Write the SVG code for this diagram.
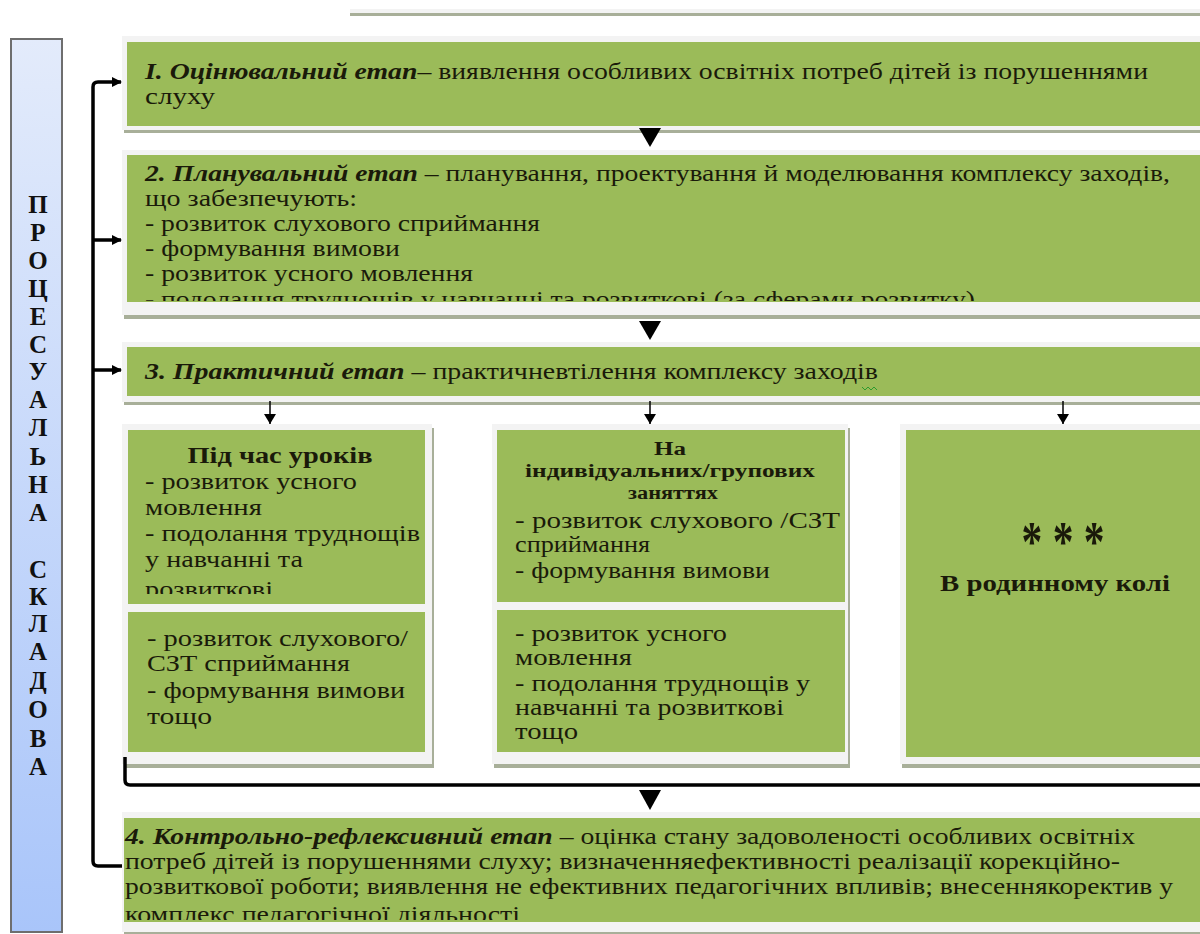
<svg xmlns="http://www.w3.org/2000/svg" width="1200" height="934" viewBox="0 0 1200 934">
<defs>
<linearGradient id="blueGrad" x1="0" y1="0" x2="0" y2="1">
<stop offset="0" stop-color="#e3ebfb"/>
<stop offset="1" stop-color="#a9c5fa"/>
</linearGradient>
<marker id="arrR" markerWidth="10" markerHeight="10" refX="9" refY="5" orient="auto" markerUnits="userSpaceOnUse" viewBox="0 0 10 10">
<path d="M0,0 L10,5 L0,10 z" fill="#000"/>
</marker>
<marker id="arrS" markerWidth="10" markerHeight="12" refX="10" refY="6" orient="auto" markerUnits="userSpaceOnUse" viewBox="0 0 10 12">
<path d="M0,0 L10,6 L0,12 z" fill="#000"/>
</marker>
<clipPath id="c2"><rect x="127" y="155" width="1075" height="146"/></clipPath>
<clipPath id="cL"><rect x="128" y="430" width="297" height="164"/></clipPath>
<clipPath id="c4"><rect x="122" y="818" width="1080" height="102"/></clipPath>
</defs>
<style>
.shadow{fill:#a8af99}
.frame{fill:#f3f3f3}
.green{fill:#9bbb59}
.t{font-family:"Liberation Serif","Times New Roman",serif;font-size:24px;fill:#1a1a0a}
.bi{font-weight:bold;font-style:italic}
.b{font-weight:bold}
.hd{font-weight:bold;font-size:18px;text-anchor:middle}
.stars{font-weight:bold;font-size:58px;text-anchor:middle}
.vl{font-family:"Liberation Serif","Times New Roman",serif;font-size:25px;font-weight:bold;fill:#111;text-anchor:middle}
.conn{fill:none;stroke:#000;stroke-width:3.5}
.thin{fill:none;stroke:#000;stroke-width:1.5}
.tri{fill:#000}
</style>

<!-- top cut-off box edge -->
<g id="topEdge">
<rect x="350" y="12" width="852" height="4" fill="#a8af99"/>
<rect x="350" y="9" width="852" height="4" fill="#f3f3f3"/>
</g>

<!-- vertical label -->
<g id="verticalLabel">
<rect x="11" y="39" width="51" height="893" fill="url(#blueGrad)" stroke="#6e6e6e" stroke-width="2"/>
<text class="vl" x="38" y="213">П</text>
<text class="vl" x="38" y="241">Р</text>
<text class="vl" x="38" y="269">О</text>
<text class="vl" x="38" y="297">Ц</text>
<text class="vl" x="38" y="325">Е</text>
<text class="vl" x="38" y="353">С</text>
<text class="vl" x="38" y="380">У</text>
<text class="vl" x="38" y="408">А</text>
<text class="vl" x="38" y="436">Л</text>
<text class="vl" x="38" y="465">Ь</text>
<text class="vl" x="38" y="493">Н</text>
<text class="vl" x="38" y="521">А</text>
<text class="vl" x="38" y="578">С</text>
<text class="vl" x="38" y="605">К</text>
<text class="vl" x="38" y="632">Л</text>
<text class="vl" x="38" y="660">А</text>
<text class="vl" x="38" y="689">Д</text>
<text class="vl" x="38" y="718">О</text>
<text class="vl" x="38" y="747">В</text>
<text class="vl" x="38" y="775">А</text>
</g>

<!-- Stage 1 -->
<g id="stage1">
<rect class="shadow" x="124" y="40" width="1080" height="93"/>
<rect class="frame" x="122" y="36" width="1080" height="94"/>
<rect class="green" x="127" y="42" width="1075" height="84"/>
<text class="t" x="145" y="79" textLength="1003" lengthAdjust="spacingAndGlyphs"><tspan class="bi">I. Оцінювальний етап</tspan>– виявлення особливих освітніх потреб  дітей із порушеннями</text>
<text class="t" x="145" y="104" textLength="70" lengthAdjust="spacingAndGlyphs">слуху</text>
</g>

<!-- Stage 2 -->
<g id="stage2">
<rect class="shadow" x="124" y="154" width="1080" height="165"/>
<rect class="frame" x="122" y="150" width="1080" height="165"/>
<rect class="green" x="127" y="155" width="1075" height="147"/>
<g clip-path="url(#c2)">
<text class="t" x="145" y="181" textLength="1025" lengthAdjust="spacingAndGlyphs"><tspan class="bi">2. Планувальний етап</tspan> – планування, проектування й моделювання комплексу заходів,</text>
<text class="t" x="145" y="206" textLength="212" lengthAdjust="spacingAndGlyphs">що забезпечують:</text>
<text class="t" x="145" y="231" textLength="395" lengthAdjust="spacingAndGlyphs">- розвиток слухового сприймання</text>
<text class="t" x="145" y="256" textLength="255" lengthAdjust="spacingAndGlyphs">- формування вимови</text>
<text class="t" x="145" y="281" textLength="328" lengthAdjust="spacingAndGlyphs">- розвиток усного мовлення</text>
<text class="t" x="145" y="307" textLength="830" lengthAdjust="spacingAndGlyphs">- подолання труднощів у навчанні та розвиткові (за сферами розвитку)</text>
</g>
</g>

<!-- Stage 3 -->
<g id="stage3">
<rect class="shadow" x="124" y="346" width="1080" height="59"/>
<rect class="frame" x="122" y="342" width="1080" height="60"/>
<rect class="green" x="127" y="347" width="1075" height="49"/>
<text class="t" x="145" y="379" textLength="733" lengthAdjust="spacingAndGlyphs"><tspan class="bi">3. Практичний етап</tspan> – практичневтілення комплексу заходів</text>
<path d="M862,387 l3,3 l3,-3 l3,3 l3,-3 l3,3" fill="none" stroke="#2e9a2e" stroke-width="1"/>
</g>

<!-- Left column -->
<g id="lessons">
<rect class="shadow" x="124" y="428" width="310" height="340"/>
<rect class="frame" x="122" y="424" width="310" height="340"/>
<rect class="green" x="128" y="430" width="297" height="174"/>
<rect class="green" x="128" y="612" width="297" height="140"/>
<text class="t b" x="280" y="463" text-anchor="middle" textLength="185" lengthAdjust="spacingAndGlyphs">Під час уроків</text>
<g clip-path="url(#cL)">
<text class="t" x="145" y="489" textLength="212" lengthAdjust="spacingAndGlyphs">- розвиток усного</text>
<text class="t" x="145" y="515" textLength="117" lengthAdjust="spacingAndGlyphs">мовлення</text>
<text class="t" x="145" y="541" textLength="275" lengthAdjust="spacingAndGlyphs">- подолання труднощів</text>
<text class="t" x="145" y="567" textLength="158" lengthAdjust="spacingAndGlyphs">у навчанні та</text>
<text class="t" x="145" y="597" textLength="128" lengthAdjust="spacingAndGlyphs">розвиткові</text>
</g>
<text class="t" x="147" y="646" textLength="261" lengthAdjust="spacingAndGlyphs">- розвиток слухового/</text>
<text class="t" x="147" y="671" textLength="203" lengthAdjust="spacingAndGlyphs">СЗТ сприймання</text>
<text class="t" x="147" y="698" textLength="258" lengthAdjust="spacingAndGlyphs">- формування вимови</text>
<text class="t" x="147" y="724" textLength="65" lengthAdjust="spacingAndGlyphs">тощо</text>
</g>

<!-- Middle column -->
<g id="individual">
<rect class="shadow" x="494" y="428" width="356" height="340"/>
<rect class="frame" x="492" y="424" width="356" height="340"/>
<rect class="green" x="497" y="430" width="348" height="172"/>
<rect class="green" x="497" y="610" width="348" height="142"/>
<text class="t hd" x="670" y="455" textLength="32" lengthAdjust="spacingAndGlyphs">На</text>
<text class="t hd" x="670" y="477" textLength="290" lengthAdjust="spacingAndGlyphs">індивідуальних/групових</text>
<text class="t hd" x="673" y="499" textLength="90" lengthAdjust="spacingAndGlyphs">заняттях</text>
<text class="t" x="515" y="528" textLength="325" lengthAdjust="spacingAndGlyphs">- розвиток слухового /СЗТ</text>
<text class="t" x="515" y="552" textLength="135" lengthAdjust="spacingAndGlyphs">сприймання</text>
<text class="t" x="515" y="578" textLength="255" lengthAdjust="spacingAndGlyphs">- формування вимови</text>
<text class="t" x="515" y="641" textLength="212" lengthAdjust="spacingAndGlyphs">- розвиток усного</text>
<text class="t" x="515" y="665" textLength="117" lengthAdjust="spacingAndGlyphs">мовлення</text>
<text class="t" x="515" y="691" textLength="295" lengthAdjust="spacingAndGlyphs">- подолання труднощів у</text>
<text class="t" x="515" y="715" textLength="269" lengthAdjust="spacingAndGlyphs">навчанні та розвиткові</text>
<text class="t" x="515" y="739" textLength="63" lengthAdjust="spacingAndGlyphs">тощо</text>
</g>

<!-- Right column -->
<g id="family">
<rect class="shadow" x="902" y="428" width="302" height="340"/>
<rect class="frame" x="900" y="424" width="302" height="340"/>
<rect class="green" x="906" y="430" width="296" height="327"/>
<text class="t stars" x="1063" y="561" textLength="83" lengthAdjust="spacingAndGlyphs">* * *</text>
<text class="t b" x="1055" y="591" text-anchor="middle" textLength="230" lengthAdjust="spacingAndGlyphs">В родинному колі</text>
</g>

<!-- Stage 4 -->
<g id="stage4">
<rect class="shadow" x="124" y="816" width="1080" height="118"/>
<rect class="frame" x="122" y="812" width="1080" height="120"/>
<rect class="green" x="124" y="818" width="1078" height="104"/>
<g clip-path="url(#c4)">
<text class="t" x="125" y="844" textLength="1010" lengthAdjust="spacingAndGlyphs"><tspan class="bi">4. Контрольно-рефлексивний етап</tspan> – оцінка стану задоволеності особливих освітніх</text>
<text class="t" x="125" y="869" textLength="995" lengthAdjust="spacingAndGlyphs">потреб дітей із порушеннями слуху; визначенняефективності реалізації корекційно-</text>
<text class="t" x="125" y="894" textLength="1048" lengthAdjust="spacingAndGlyphs">розвиткової роботи; виявлення не ефективних педагогічних впливів; внесеннякоректив у</text>
<text class="t" x="125" y="922" textLength="395" lengthAdjust="spacingAndGlyphs">комплекс педагогічної діяльності</text>
</g>
</g>

<!-- Connectors -->
<g id="connectors">
<polygon class="tri" points="639,128 661,128 650,147"/>
<polygon class="tri" points="639,321 661,321 650,340"/>
<path class="thin" d="M270,401 V424" marker-end="url(#arrS)"/>
<path class="thin" d="M650,401 V424" marker-end="url(#arrS)"/>
<path class="thin" d="M1063,401 V424" marker-end="url(#arrS)"/>
<path class="conn" d="M125,757 V780 Q125,785 130,785 H1202"/>
<polygon class="tri" points="639,790 661,790 650,810"/>
<path class="conn" d="M122,866 H98 Q93,866 93,861 V87 Q93,82 98,82 H121" marker-end="url(#arrR)"/>
<path class="conn" d="M93,240 H121" marker-end="url(#arrR)"/>
<path class="conn" d="M93,370 H121" marker-end="url(#arrR)"/>
</g>
</svg>
